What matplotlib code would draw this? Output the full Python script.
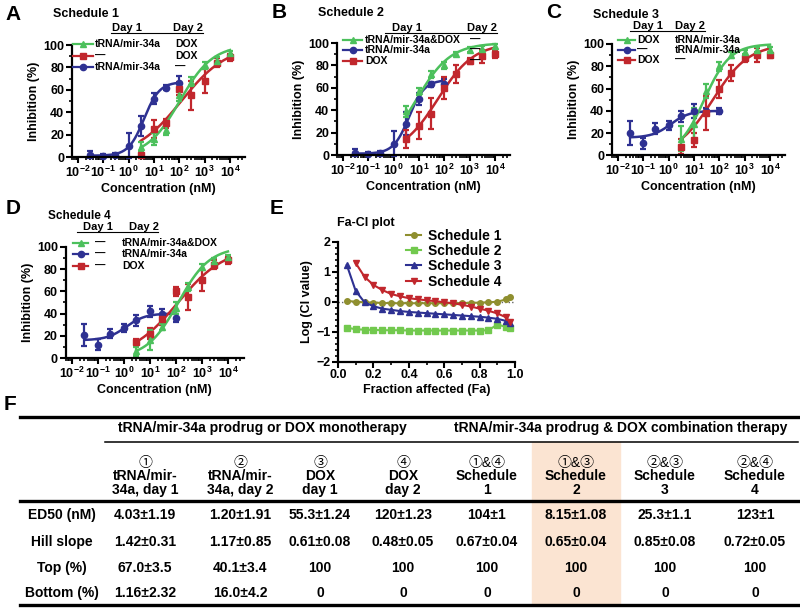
import numpy as np
import matplotlib
matplotlib.use('Agg')
import matplotlib.pyplot as plt
from matplotlib.patches import Rectangle
from matplotlib.ticker import LogLocator, NullFormatter, MultipleLocator

plt.rcParams['font.family'] = ['Liberation Sans', 'Noto Sans CJK SC', 'DejaVu Sans']
plt.rcParams['font.weight'] = 'bold'
plt.rcParams['axes.labelweight'] = 'bold'
plt.rcParams['mathtext.fontset'] = 'custom'
plt.rcParams['mathtext.rm'] = 'Liberation Sans:bold'
plt.rcParams['mathtext.bf'] = 'Liberation Sans:bold'
plt.rcParams['mathtext.default'] = 'bf'

GREEN = '#4cc05c'
RED = '#c1272d'
BLUE = '#2e3192'
OLIVE = '#8f8f2f'
LGREEN = '#72c94e'

# concentrations (nM)
conc_mir = [0.03, 0.1, 0.3, 1, 3, 10, 30, 100]
conc_dox = [3, 10, 30, 100, 300, 1000, 3000, 10000]

# Schedule 1
a_blue = [2, 1, 2, 10, 28, 52, 62, 66]
a_blue_err = [3, 2, 2, 11, 9, 5, 2, 6]
a_red = [2, 25, 30, 61, 55, 68, 84, 89]
a_red_err = [3, 8, 4, 6, 13, 11, 4, 3]
a_green = [9, 16, 24, 55, 67, 82, 86, 93]
a_green_err = [4, 5, 4, 5, 4, 3, 3, 2]

# Schedule 2
b_blue = [2, 1, 1.5, 10, 28, 50, 63, 63]
b_blue_err = [3, 2, 2, 11, 10, 5, 2, 5]
b_red = [14, 26, 37, 60, 72, 84, 88, 90]
b_red_err = [8, 12, 14, 10, 8, 3, 6, 3]
b_green = [39, 57, 72, 80, 90, 94, 95, 97]
b_green_err = [5, 3, 3, 3, 2, 2, 2, 2]

# Schedule 3
c_blue = [20, 11, 24, 27, 35, 40, 40, 40]
c_blue_err = [11, 5, 5, 4, 5, 6, 3, 3]
c_red = [8, 14, 38, 60, 74, 87, 90, 90]
c_red_err = [7, 6, 15, 8, 7, 3, 6, 3]
c_green = [15, 28, 58, 80, 90, 93, 95, 95]
c_green_err = [11, 15, 6, 4, 3, 2, 2, 2]

# Schedule 4
d_blue = [21, 12, 22, 27, 34, 42, 40, 36]
d_blue_err = [10, 5, 4, 4, 5, 5, 4, 4]
d_red = [14, 22, 35, 60, 55, 70, 84, 88]
d_red_err = [3, 5, 5, 4, 12, 10, 4, 3]
d_green = [6, 16, 28, 45, 64, 82, 87, 91]
d_green_err = [4, 9, 3, 5, 4, 3, 3, 2]

# Fa-CI plot
fa = [0.05, 0.10, 0.15, 0.20, 0.25, 0.30, 0.35, 0.40, 0.45, 0.50,
      0.55, 0.60, 0.65, 0.70, 0.75, 0.80, 0.85, 0.90, 0.95, 0.97]
ci_s1 = [0.03, 0.0, -0.02, -0.03, -0.04, -0.05, -0.05, -0.05, -0.05, -0.05,
         -0.05, -0.05, -0.05, -0.04, -0.04, -0.03, -0.02, 0.0, 0.08, 0.17]
ci_s2 = [-0.86, -0.92, -0.93, -0.94, -0.95, -0.95, -0.95, -0.96, -0.96, -0.96,
         -0.96, -0.96, -0.96, -0.96, -0.96, -0.96, -0.95, -0.76, -0.84, -0.88]
ci_s3 = [1.22, 0.36, -0.02, -0.15, -0.23, -0.27, -0.31, -0.34, -0.36, -0.38,
         -0.40, -0.42, -0.44, -0.46, -0.48, -0.50, -0.53, -0.57, -0.64, -0.72]
fa_s4 = fa[1:]
ci_s4 = [1.29, 0.83, 0.56, 0.39, 0.26, 0.18, 0.12, 0.08, 0.05,
         0.02, -0.02, -0.05, -0.10, -0.16, -0.23, -0.30, -0.39, -0.52, -0.67]

# table F
col_top = ['①', '②', '③', '④', '①&④', '①&③', '②&③', '②&④']
col_mid = ['tRNA/mir-', 'tRNA/mir-', 'DOX', 'DOX', 'Schedule', 'Schedule', 'Schedule', 'Schedule']
col_bot = ['34a, day 1', '34a, day 2', 'day 1', 'day 2', '1', '2', '3', '4']
row_labels = ['ED50 (nM)', 'Hill slope', 'Top (%)', 'Bottom (%)']
ed50_txt = ['4.03±1.19', '1.20±1.91', '55.3±1.24', '120±1.23', '104±1', '8.15±1.08', '25.3±1.1', '123±1']
hill_txt = ['1.42±0.31', '1.17±0.85', '0.61±0.08', '0.48±0.05', '0.67±0.04', '0.65±0.04', '0.85±0.08', '0.72±0.05']
top_txt = ['67.0±3.5', '40.1±3.4', '100', '100', '100', '100', '100', '100']
bottom_txt = ['1.16±2.32', '16.0±4.2', '0', '0', '0', '0', '0', '0']


def val(s):
    return float(s.split('±')[0])


# fitted dose-response curve from the table parameters (column index i)
def hill(x, i):
    b, t = val(bottom_txt[i]), val(top_txt[i])
    return b + (t - b) / (1 + (val(ed50_txt[i]) / x) ** val(hill_txt[i]))


def style(ax, lsize=9):
    for s in ['top', 'right']:
        ax.spines[s].set_visible(False)
    for s in ['left', 'bottom']:
        ax.spines[s].set_linewidth(1.6)
    ax.tick_params(which='major', length=4, width=1.5, labelsize=lsize, pad=1.5)
    ax.tick_params(which='minor', length=2.5, width=1.2)


def dose_panel(ax, series):
    for conc, y, err, color, marker, fit in series:
        xs = np.logspace(np.log10(conc[0]), np.log10(conc[-1]), 200)
        ax.plot(xs, hill(xs, fit), color=color, lw=1.8, clip_on=False)
        eb = ax.errorbar(conc, y, yerr=err, fmt=marker, color=color, ms=4.5,
                         capsize=2.5, elinewidth=1.6, capthick=1.6)
        for art in [eb.lines[0]] + list(eb.lines[1]) + list(eb.lines[2]):
            art.set_clip_on(False)
    ax.set_xscale('log')
    ax.set_xlim(10 ** -2.25, 10 ** 4.6)
    ax.set_ylim(0, 100)
    ax.set_xticks([10.0 ** d for d in range(-2, 5)])
    ax.set_xticklabels([r'$10^{%d}$' % d for d in range(-2, 5)])
    ax.xaxis.set_minor_locator(LogLocator(base=10, subs=np.arange(2, 10) * 1.0, numticks=20))
    ax.xaxis.set_minor_formatter(NullFormatter())
    ax.set_yticks(range(0, 101, 20))
    ax.set_yticks(range(0, 101, 10), minor=True)
    ax.set_xlabel('Concentration (nM)', fontsize=9, labelpad=2)
    ax.set_ylabel('Inhibition (%)', fontsize=9, labelpad=2)
    style(ax)


fig = plt.figure(figsize=(8, 6.1), dpi=100)

axA = fig.add_axes([0.0896, 0.7426, 0.2169, 0.1836])
axB = fig.add_axes([0.4209, 0.7459, 0.2169, 0.1836])
axC = fig.add_axes([0.7646, 0.7451, 0.2169, 0.1828])
axD = fig.add_axes([0.0819, 0.4131, 0.2225, 0.1820])
axE = fig.add_axes([0.4225, 0.4070, 0.2213, 0.1967])

dose_panel(axA, [(conc_mir, a_blue, a_blue_err, BLUE, 'o', 0),
                 (conc_dox, a_red, a_red_err, RED, 's', 3),
                 (conc_dox, a_green, a_green_err, GREEN, '^', 4)])
dose_panel(axB, [(conc_mir, b_blue, b_blue_err, BLUE, 'o', 0),
                 (conc_dox, b_red, b_red_err, RED, 's', 2),
                 (conc_dox, b_green, b_green_err, GREEN, '^', 5)])
dose_panel(axC, [(conc_mir, c_blue, c_blue_err, BLUE, 'o', 1),
                 (conc_dox, c_red, c_red_err, RED, 's', 2),
                 (conc_dox, c_green, c_green_err, GREEN, '^', 6)])
dose_panel(axD, [(conc_mir, d_blue, d_blue_err, BLUE, 'o', 1),
                 (conc_dox, d_red, d_red_err, RED, 's', 3),
                 (conc_dox, d_green, d_green_err, GREEN, '^', 7)])

# Fa-CI plot
axE.axhline(0, color='#666666', ls=(0, (1, 1.5)), lw=1)
axE.plot(fa, ci_s1, color=OLIVE, marker='o', ms=4, lw=1.5, label='Schedule 1')
axE.plot(fa, ci_s2, color=LGREEN, marker='s', ms=4, lw=1.5, label='Schedule 2')
axE.plot(fa, ci_s3, color=BLUE, marker='^', ms=4, lw=1.5, label='Schedule 3')
axE.plot(fa_s4, ci_s4, color=RED, marker='v', ms=4, lw=1.5, label='Schedule 4')
axE.set_xlim(0, 1)
axE.set_ylim(-2, 2)
axE.set_xticks(np.arange(0, 1.01, 0.2))
axE.set_xticklabels(['0.0', '0.2', '0.4', '0.6', '0.8', '1.0'])
axE.xaxis.set_minor_locator(MultipleLocator(0.1))
axE.set_yticks([-2, -1, 0, 1, 2])
axE.yaxis.set_minor_locator(MultipleLocator(0.2))
axE.set_xlabel('Fraction affected (Fa)', fontsize=9, labelpad=2)
axE.set_ylabel('Log (CI value)', fontsize=9, labelpad=2)
style(axE, 9)
axE.legend(loc='upper left', bbox_to_anchor=(0.385, 1.11), frameon=False, fontsize=10,
           borderpad=0, borderaxespad=0, handlelength=1.1, handletextpad=0.45,
           labelspacing=0.1)

# overlay in pixel coordinates for letters, legends and table
ov = fig.add_axes([0, 0, 1, 1], zorder=5)
ov.set_xlim(0, 800)
ov.set_ylim(610, 0)
ov.axis('off')
ov.patch.set_visible(False)


def txt(x, y, s, size=7.5, ha='left', **kw):
    ov.text(x, y, s, fontsize=size, ha=ha, va='center', **kw)


def key(x0, x1, y, color, marker):
    ov.plot([x0, x1], [y, y], color=color, lw=1.6)
    ov.plot([(x0 + x1) / 2], [y], marker=marker, color=color, ms=4.5)


for letter, x, y in [('A', 5, 14), ('B', 272, 13), ('C', 546, 13),
                     ('D', 6, 208), ('E', 270, 208), ('F', 4, 404)]:
    txt(x, y, letter, size=15)
for title, x, y, sz in [('Schedule 1', 53, 14, 9), ('Schedule 2', 318, 13, 9),
                        ('Schedule 3', 593, 15, 9), ('Schedule 4', 48, 216, 8.5),
                        ('Fa-CI plot', 337, 223, 9)]:
    txt(x, y, title, size=sz)

# schedule legends: (day header centres, underline, key x, text x, rows)
legends = [
    ((127, 188), (111, 203, 33), (73, 93), (95, 175), [44, 56, 67],
     [(GREEN, '^', 'tRNA/mir-34a', 'DOX'), (RED, 's', '—', 'DOX'), (BLUE, 'o', 'tRNA/mir-34a', '—')]),
    ((407, 482), (385, 497, 33), (343, 362), (365, 470), [40, 50, 61],
     [(GREEN, '^', 'tRNA/mir-34a&DOX', '—'), (BLUE, 'o', 'tRNA/mir-34a', '—'), (RED, 's', 'DOX', '—')]),
    ((648, 690), (630, 705, 31), (618, 635), (637, 675), [40, 50, 60],
     [(GREEN, '^', 'DOX', 'tRNA/mir-34a'), (BLUE, 'o', '—', 'tRNA/mir-34a'), (RED, 's', 'DOX', '—')]),
    ((98, 144), (77, 158, 232), (73, 88), (95, 122), [243, 254, 266],
     [(GREEN, '^', '—', 'tRNA/mir-34a&DOX'), (BLUE, 'o', '—', 'tRNA/mir-34a'), (RED, 's', '—', 'DOX')]),
]
for (c1, c2), (l0, l1, ly), (k0, k1), (t1, t2), rows, entries in legends:
    txt(c1, ly - 5, 'Day 1', size=8, ha='center')
    txt(c2, ly - 5, 'Day 2', size=8, ha='center')
    ov.plot([l0, l1], [ly, ly], color='k', lw=0.8)
    for y, (color, marker, s1, s2) in zip(rows, entries):
        key(k0, k1, y, color, marker)
        txt(t1, y, s1)
        txt(t2, y, s2)

# table F
col_x = [145, 240, 320, 403, 487, 576, 665, 755]
row_y = [515, 542, 568, 593]
ov.add_patch(Rectangle((532, 442), 88, 162, color='#fbe4d2', zorder=0))
ov.plot([20, 798], [417, 417], color='k', lw=2.4)
ov.plot([105, 798], [441.5, 441.5], color='k', lw=1.1)
ov.plot([20, 798], [501, 501], color='k', lw=2.4)
ov.plot([20, 798], [605, 605], color='k', lw=2.4)
txt(262, 428, 'tRNA/mir-34a prodrug or DOX monotherapy', size=10, ha='center')
txt(621, 428, 'tRNA/mir-34a prodrug & DOX combination therapy', size=10, ha='center')
for x, a, b, c in zip(col_x, col_top, col_mid, col_bot):
    txt(x, 463, a, size=10, ha='center', fontweight='normal')
    txt(x, 476.5, b, size=10, ha='center')
    txt(x, 490, c, size=10, ha='center')
for y, lab, cells in zip(row_y, row_labels, [ed50_txt, hill_txt, top_txt, bottom_txt]):
    txt(62, y, lab, size=10, ha='center')
    for x, s in zip(col_x, cells):
        txt(x, y, s, size=10, ha='center')

fig.savefig('out.png', dpi=100)
